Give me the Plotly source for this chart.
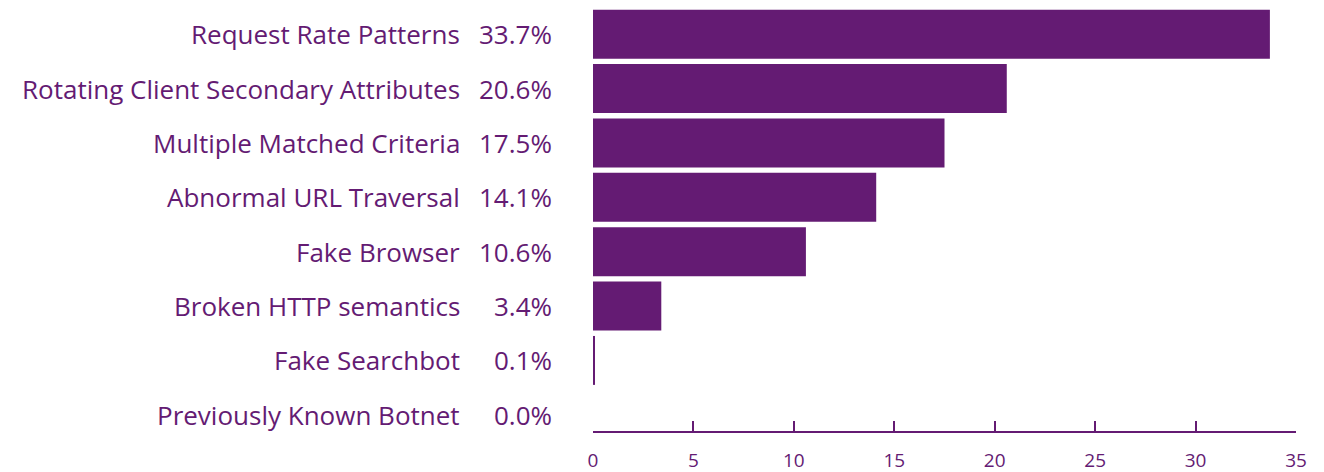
import plotly.graph_objects as go

categories = [
    "Request Rate Patterns",
    "Rotating Client Secondary Attributes",
    "Multiple Matched Criteria",
    "Abnormal URL Traversal",
    "Fake Browser",
    "Broken HTTP semantics",
    "Fake Searchbot",
    "Previously Known Botnet",
]
shares = [33.7, 20.6, 17.5, 14.1, 10.6, 3.4, 0.1, 0.0]
x_ticks = [0, 5, 10, 15, 20, 25, 30, 35]

PURPLE = "#641B73"
FONT = "Open Sans"

fig = go.Figure(
    go.Bar(
        x=shares,
        y=categories,
        orientation="h",
        marker=dict(color=PURPLE, line=dict(width=0)),
        hoverinfo="skip",
    )
)

# Category names and percentage values drawn to the left of the bars
for cat, val in zip(categories, shares):
    fig.add_annotation(
        x=-0.186, xref="paper", y=cat, yref="y",
        text=cat, showarrow=False, xanchor="right", yanchor="middle",
        font=dict(family=FONT, size=26, color=PURPLE),
    )
    fig.add_annotation(
        x=-0.055, xref="paper", y=cat, yref="y",
        text=f"{val:.1f}%", showarrow=False, xanchor="right", yanchor="middle",
        font=dict(family=FONT, size=26, color=PURPLE),
    )

fig.update_layout(
    width=1324,
    height=472,
    margin=dict(l=593, r=28, t=7, b=41, autoexpand=False),
    paper_bgcolor="white",
    plot_bgcolor="white",
    bargap=0.1,
    showlegend=False,
    xaxis=dict(
        range=[0, 35],
        tickvals=x_ticks,
        automargin=False,
        showgrid=False,
        zeroline=False,
        showline=True,
        linecolor=PURPLE,
        linewidth=2,
        ticks="inside",
        ticklen=10,
        tickwidth=1.5,
        tickcolor=PURPLE,
        tickfont=dict(family=FONT, size=19, color=PURPLE),
        ticklabelstandoff=11,
    ),
    yaxis=dict(
        range=[7.298, -0.5],
        automargin=False,
        showticklabels=False,
        showgrid=False,
        zeroline=False,
        showline=False,
        ticks="",
    ),
)

fig.write_html("out.html")
